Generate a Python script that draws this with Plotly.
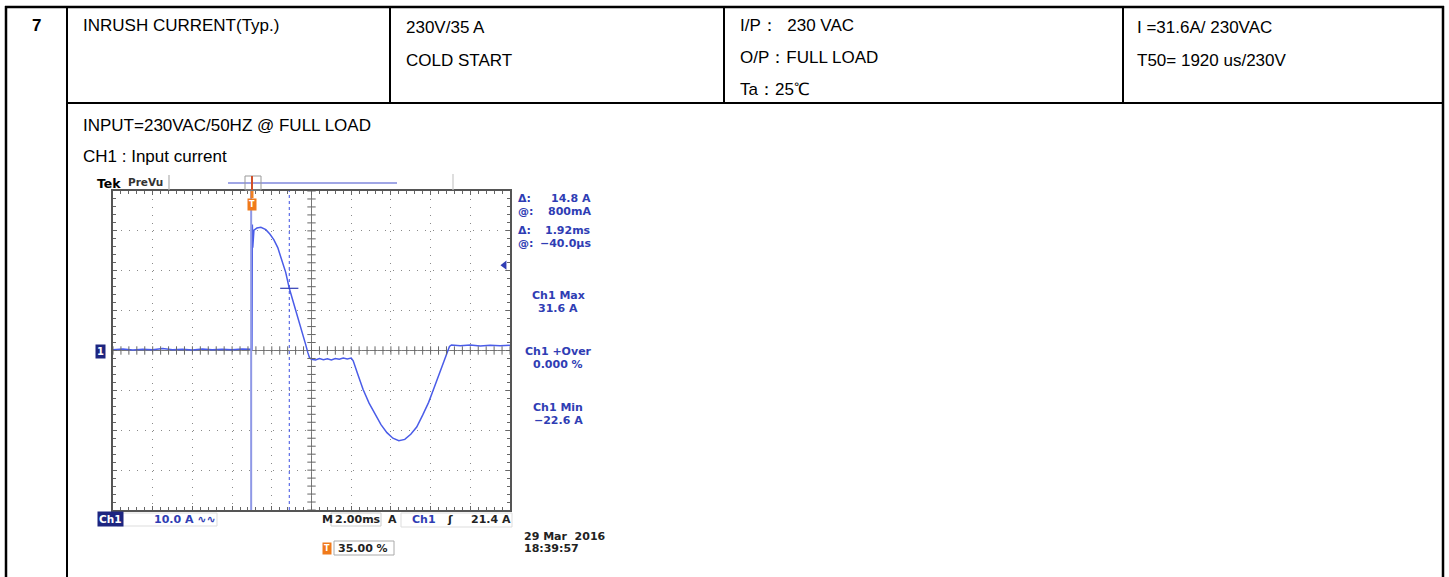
import numpy as np
import plotly.graph_objects as go

W, H = 1449, 577

# ---------------- data (read from the scope capture) ----------------
time_ms = [-7.0, -6.5, -6.0, -5.5, -5.0, -4.5, -4.0, -3.5, -3.0, -2.5, -2.0, -1.5, -1.0, -0.5, -0.1,
           0.0, 0.02, 0.04, 0.10, 0.25, 0.45, 0.70, 0.90, 1.10, 1.30, 1.50, 1.70, 1.88, 2.10, 2.30,
           2.50, 2.70, 2.82, 2.90, 3.00, 3.20, 3.40, 3.60, 3.80, 4.00, 4.20, 4.40, 4.60, 4.80, 5.00,
           5.10, 5.30, 5.60, 5.90, 6.20, 6.50, 6.80, 7.10, 7.40, 7.70, 8.00, 8.30, 8.60, 8.90, 9.20,
           9.50, 9.75, 9.95, 10.05, 10.5, 11.0, 11.5, 12.0, 12.5, 13.0]
current_a = [0.2, 0.4, 0.1, 0.3, 0.2, 0.5, 0.2, 0.3, 0.1, 0.4, 0.2, 0.3, 0.2, 0.4, 0.3,
             0.3, 31.6, 25.8, 30.2, 30.7, 30.9, 30.3, 29.2, 27.8, 25.8, 22.8, 19.6, 15.6, 12.0, 8.6,
             5.2, 1.6, -0.6, -1.8, -2.2, -2.4, -2.0, -2.3, -2.1, -2.4, -2.0, -2.2, -1.9, -2.1, -1.9,
             -2.6, -5.5, -9.8, -13.2, -16.0, -18.6, -20.6, -22.0, -22.6, -22.3, -21.0, -19.2, -16.2, -13.0, -9.0,
             -5.2, -1.6, 1.0, 1.4, 1.2, 1.4, 1.1, 1.3, 1.2, 1.3]

cursor_t = [-0.04, 1.88]      # ms
cursor_level = 15.6           # A
trigger_level = 21.4          # A

table_row = ["7", "INRUSH CURRENT(Typ.)", ["230V/35 A", "COLD START"],
             ["I/P：  230 VAC", "O/P：FULL LOAD", "Ta：25℃"],
             ["I =31.6A/ 230VAC", "T50= 1920 us/230V"]]
notes = ["INPUT=230VAC/50HZ @ FULL LOAD", "CH1 : Input current"]

readouts = [("Δ:", "14.8 A"), ("@:", "800mA"), ("Δ:", "1.92ms"), ("@:", "−40.0µs")]
meas = [("Ch1 Max", "31.6 A"), ("Ch1 +Over", "0.000 %"), ("Ch1 Min", "−22.6 A")]

# ---------------- helpers ----------------
def px(x):
    return x / W

def py(y):
    return 1 - y / H

TABLE_FONT = "Liberation Sans, Arial, sans-serif"
TEK_FONT = "DejaVu Sans, Verdana, sans-serif"
BLUE = "#2f3db4"
WAVE = "#4a5ce8"

fig = go.Figure()

# waveform
fig.add_trace(go.Scatter(x=time_ms, y=current_a, mode="lines",
                         line=dict(color=WAVE, width=1.5), hoverinfo="skip", showlegend=False))

# graticule center ticks
xt = np.round(np.arange(-7, 13.001, 0.4), 3)
yt = np.arange(-40, 40.001, 2)
fig.add_trace(go.Scatter(x=xt, y=[0] * len(xt), mode="markers",
                         marker=dict(symbol="line-ns", size=6, line=dict(color="#666", width=1)),
                         hoverinfo="skip", showlegend=False))
fig.add_trace(go.Scatter(x=[3] * len(yt), y=yt, mode="markers",
                         marker=dict(symbol="line-ew", size=6, line=dict(color="#666", width=1)),
                         hoverinfo="skip", showlegend=False))
# trigger level arrow
fig.add_trace(go.Scatter(x=[12.72], y=[trigger_level], mode="markers",
                         marker=dict(symbol="triangle-left", size=8, color=BLUE),
                         hoverinfo="skip", showlegend=False))
# cursor level mark
fig.add_trace(go.Scatter(x=[cursor_t[1]], y=[cursor_level], mode="markers",
                         marker=dict(symbol="line-ew", size=13, line=dict(color=BLUE, width=1.2)),
                         hoverinfo="skip", showlegend=False))

axis_common = dict(showticklabels=False, showgrid=True, gridcolor="#8a8a8a", griddash="1px,7px",
                   gridwidth=1, zeroline=False, showline=True, linecolor="#555", linewidth=2,
                   mirror="allticks", ticks="inside", ticklen=4, tickcolor="#666", fixedrange=True)
fig.update_xaxes(range=[-7, 13], domain=[px(113), px(510)], tick0=-7, dtick=2,
                 minor=dict(tick0=-7, dtick=0.4, ticks="inside", ticklen=3, tickcolor="#666", showgrid=False),
                 **axis_common)
fig.update_yaxes(range=[-40, 40], domain=[py(510), py(191)], tick0=0, dtick=10,
                 minor=dict(tick0=0, dtick=2, ticks="inside", ticklen=3, tickcolor="#666", showgrid=False),
                 **axis_common)

shapes = []
# center cross
shapes.append(dict(type="line", xref="x", yref="y", x0=3, x1=3, y0=-40, y1=40, line=dict(color="#777", width=1), layer="below"))
shapes.append(dict(type="line", xref="x", yref="y", x0=-7, x1=13, y0=0, y1=0, line=dict(color="#777", width=1), layer="below"))
# cursors
shapes.append(dict(type="line", xref="x", yref="y", x0=cursor_t[0], x1=cursor_t[0], y0=-40, y1=40,
                   line=dict(color="#8f98e6", width=2)))
shapes.append(dict(type="line", xref="x", yref="y", x0=cursor_t[1], x1=cursor_t[1], y0=-40, y1=40,
                   line=dict(color="#3b4fe0", width=1, dash="3px,3px")))

# table lines
def pline(x0, y0, x1, y1, w=2, c="black"):
    shapes.append(dict(type="line", xref="paper", yref="paper", x0=px(x0), y0=py(y0), x1=px(x1), y1=py(y1),
                       line=dict(color=c, width=w)))

def prect(x0, y0, x1, y1, c):
    shapes.append(dict(type="rect", xref="paper", yref="paper", x0=px(x0), x1=px(x1), y0=py(y1), y1=py(y0),
                       line=dict(color=c, width=1)))

pline(5, 7, 1444, 7, 2.5)
pline(6, 6, 6, 577, 2.5)
pline(1443, 6, 1443, 577, 2.5)
pline(67, 7, 67, 577, 2)
pline(390, 7, 390, 103, 2)
pline(724, 7, 724, 103, 2)
pline(1123, 7, 1123, 103, 2)
pline(67, 103, 1443, 103, 2)

# scope top bar decorations
pline(169, 175, 169, 190, 1.2, "#b0b0b0")
pline(453, 174, 453, 190, 1.2, "#c8c8c8")
pline(228, 183, 397, 183, 1.5, "#8088dd")
prect(245, 176, 261, 190, "#999999")
pline(252, 176, 252, 190, 2, "#d0502a")
pline(252, 191, 252, 198, 3, "#f08020")
# bottom boxes
prect(117, 513, 217, 526, "#dddddd")
prect(331, 513, 381, 526, "#cccccc")
prect(401, 513, 512, 527, "#dddddd")
prect(334, 541, 394, 555, "#aaaaaa")

ann = []
def text(x, y, s, size=17, color="black", anchor="left", font=TABLE_FONT, bold=False, bg=None):
    d = dict(xref="paper", yref="paper", x=px(x), y=py(y), text=("<b>%s</b>" % s) if bold else s,
             showarrow=False, xanchor=anchor, yanchor="middle",
             font=dict(family=font, size=size, color=color))
    if bg:
        d["bgcolor"] = bg
        d["borderpad"] = 1
    ann.append(d)

# table text
text(36, 26, table_row[0], 17, bold=True, anchor="center")
text(81, 26, table_row[1], 17)
for i, s in enumerate(table_row[2]):
    text(404, 27 + 33 * i, s, 17)
for i, s in enumerate(table_row[3]):
    text(738, 26 + 31.5 * i, s, 17)
for i, s in enumerate(table_row[4]):
    text(1135, 27 + 33 * i, s, 17)
text(81, 126, notes[0], 17)
text(81, 157, notes[1], 17)

# scope labels
text(95, 183, "Tek", 12.5, font=TEK_FONT, bold=True)
text(126, 182, "PreVu", 10.5, color="#333", font=TEK_FONT, bold=True)
for i, (a, b) in enumerate(readouts):
    yy = [198, 211, 231, 243][i]
    text(516, yy, a, 11, BLUE, font=TEK_FONT, bold=True)
    text(593, yy, b, 11, BLUE, anchor="right", font=TEK_FONT, bold=True)
for i, (a, b) in enumerate(meas):
    yy = [295, 351, 407][i]
    text(558, yy, a, 11, BLUE, anchor="center", font=TEK_FONT, bold=True)
    text(558, yy + 13, b, 11, BLUE, anchor="center", font=TEK_FONT, bold=True)

# ground marker and trigger T
text(101, 351, "1", 10, "white", anchor="center", font=TEK_FONT, bold=True, bg="#1d2580")
text(252, 204, "T", 8, "white", anchor="center", font=TEK_FONT, bold=True, bg="#f07a1a")

# bottom status
text(97, 519, "Ch1", 10.5, "white", font=TEK_FONT, bold=True, bg="#1d2580")
text(152, 519, "10.0 A ∿∿", 11, BLUE, font=TEK_FONT, bold=True)
text(320, 519, "M", 11, "#222", font=TEK_FONT, bold=True)
text(333, 519, "2.00ms", 11, "#222", font=TEK_FONT, bold=True)
text(386, 519, "A", 11, "#222", font=TEK_FONT, bold=True)
text(410, 519, "Ch1", 11, BLUE, font=TEK_FONT, bold=True)
text(445, 519, "ʃ", 11, "#222", font=TEK_FONT, bold=True)
text(513, 519, "21.4 A", 11, "#222", anchor="right", font=TEK_FONT, bold=True)
text(522, 536, "29 Mar  2016", 11, "#222", font=TEK_FONT, bold=True)
text(522, 548, "18:39:57", 11, "#222", font=TEK_FONT, bold=True)
text(322, 548, "T", 8, "white", font=TEK_FONT, bold=True, bg="#f07a1a")
text(336, 548, "35.00 %", 11, "#222", font=TEK_FONT, bold=True)

fig.update_layout(width=W, height=H, margin=dict(l=0, r=0, t=0, b=0),
                  paper_bgcolor="white", plot_bgcolor="white",
                  shapes=shapes, annotations=ann, showlegend=False)

fig.write_html("out.html", config={"displayModeBar": False, "staticPlot": True})

# remove the default page margin so the figure sits at the window origin
with open("out.html", "r", encoding="utf-8") as f:
    html = f.read()
html = html.replace("<head>", "<head><style>html,body{margin:0;padding:0;overflow:hidden;}</style>", 1)
with open("out.html", "w", encoding="utf-8") as f:
    f.write(html)
